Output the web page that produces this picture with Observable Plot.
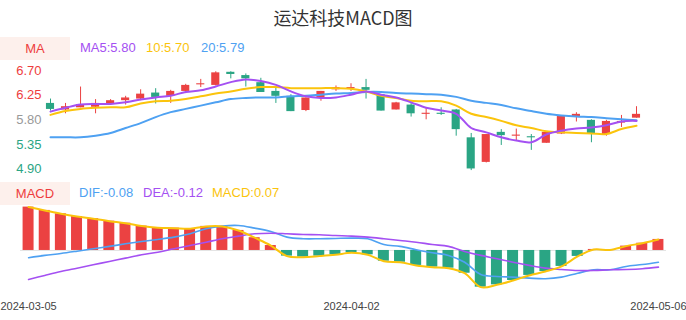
<!DOCTYPE html>
<html><head><meta charset="utf-8">
<script src="https://cdn.jsdelivr.net/npm/d3@7"></script>
<script src="https://cdn.jsdelivr.net/npm/@observablehq/plot@0.6"></script>
<style>
body{margin:0;background:#fff;}
#root{position:relative;width:686px;height:320px;font-family:"Liberation Sans",Arial,sans-serif;overflow:hidden;}
.abs{position:absolute;white-space:nowrap;}
.box{position:absolute;left:0;width:70px;height:23px;line-height:23px;background:#fdf0ec;color:#ee3d3d;font-size:13px;text-align:center;}
.leg{position:absolute;font-size:13px;line-height:16px;white-space:nowrap;}
svg{position:absolute;left:0;}
</style></head>
<body><div id="root">
<div class="abs" style="left:0;width:686px;top:4px;text-align:center;font-size:18px;color:#333;font-family:'Noto Sans CJK SC','Liberation Sans',sans-serif;">运达科技MACD图</div>
<div class="box" style="top:37px;">MA</div>
<div class="leg" style="left:80px;top:40px;color:#a450f2;">MA5:5.80</div>
<div class="leg" style="left:146px;top:40px;color:#fbc40c;">10:5.70</div>
<div class="leg" style="left:201px;top:40px;color:#4ea1f2;">20:5.79</div>
<div class="box" style="top:182px;">MACD</div>
<div class="leg" style="left:79px;top:185px;color:#4ea1f2;">DIF:-0.08</div>
<div class="leg" style="left:143px;top:185px;color:#a450f2;">DEA:-0.12</div>
<div class="leg" style="left:212px;top:185px;color:#fbc40c;">MACD:0.07</div>
</div>
<script>
const dates = ["2024-03-05","2024-03-06","2024-03-07","2024-03-08","2024-03-11","2024-03-12","2024-03-13","2024-03-14","2024-03-15","2024-03-18","2024-03-19","2024-03-20","2024-03-21","2024-03-22","2024-03-25","2024-03-26","2024-03-27","2024-03-28","2024-03-29","2024-04-01","2024-04-02","2024-04-03","2024-04-08","2024-04-09","2024-04-10","2024-04-11","2024-04-12","2024-04-15","2024-04-16","2024-04-17","2024-04-18","2024-04-19","2024-04-22","2024-04-23","2024-04-24","2024-04-25","2024-04-26","2024-04-29","2024-04-30","2024-05-06"];
const tickIndex = [0, 20, 39];
const open  = [6.10,5.98,6.02,6.03,6.08,6.15,6.18,6.29,6.23,6.32,6.44,6.43,6.67,6.61,6.48,6.32,6.23,5.97,6.20,6.35,6.37,6.39,6.26,5.98,6.07,5.90,5.92,5.98,5.47,5.02,5.57,5.50,5.49,5.37,5.54,5.86,5.79,5.53,5.74,5.83];
const close = [5.99,6.04,6.08,6.10,6.15,6.20,6.27,6.21,6.32,6.43,6.46,6.66,6.63,6.55,6.30,6.23,5.95,6.20,6.32,6.39,6.39,6.34,5.96,6.11,5.91,5.92,5.90,5.62,4.90,5.53,5.51,5.52,5.47,5.57,5.86,5.90,5.55,5.77,5.77,5.90];
const high  = [6.18,6.10,6.40,6.17,6.17,6.23,6.35,6.37,6.34,6.45,6.54,6.68,6.68,6.64,6.56,6.38,6.26,6.20,6.32,6.42,6.46,6.54,6.26,6.12,6.10,6.02,6.02,5.99,5.55,5.53,5.62,5.63,5.53,5.58,5.87,5.93,5.80,5.79,5.88,6.04];
const low   = [5.96,5.91,6.02,5.91,6.07,6.07,6.15,6.09,6.10,6.28,6.39,6.42,6.55,6.40,6.30,6.10,5.95,5.95,6.14,6.32,6.32,6.18,5.96,5.98,5.85,5.80,5.88,5.50,4.87,5.01,5.33,5.42,5.24,5.37,5.53,5.76,5.38,5.50,5.66,5.83];
const ma5  = [5.95,6.02,6.08,6.09,6.09,6.12,6.17,6.21,6.24,6.31,6.34,6.41,6.49,6.54,6.51,6.44,6.32,6.23,6.20,6.21,6.26,6.32,6.26,6.21,6.12,6.02,5.97,5.91,5.65,5.57,5.48,5.42,5.39,5.53,5.60,5.64,5.66,5.70,5.77,5.78];
const ma10 = [5.89,5.96,6.00,6.02,6.03,6.03,6.10,6.14,6.15,6.18,6.23,6.28,6.32,6.37,6.40,6.40,6.38,6.38,6.38,6.38,6.37,6.32,6.24,6.20,6.15,6.14,6.14,6.06,5.91,5.85,5.78,5.70,5.65,5.59,5.57,5.56,5.55,5.54,5.63,5.69];
const ma20 = [5.48,5.48,5.48,5.51,5.56,5.65,5.74,5.85,5.94,6.00,6.06,6.12,6.18,6.20,6.21,6.21,6.23,6.24,6.26,6.28,6.29,6.31,6.31,6.29,6.28,6.27,6.26,6.22,6.15,6.11,6.07,6.01,5.96,5.91,5.88,5.86,5.85,5.83,5.81,5.79];
const dif  = [-0.050,-0.034,-0.021,-0.005,0.012,0.028,0.046,0.062,0.076,0.092,0.115,0.150,0.168,0.172,0.154,0.131,0.092,0.081,0.081,0.083,0.085,0.081,0.041,0.028,0.005,-0.016,-0.034,-0.081,-0.166,-0.179,-0.184,-0.191,-0.195,-0.184,-0.157,-0.133,-0.133,-0.110,-0.097,-0.081];
const dea  = [-0.200,-0.172,-0.145,-0.122,-0.099,-0.076,-0.053,-0.030,-0.012,0.012,0.034,0.057,0.081,0.099,0.115,0.119,0.115,0.110,0.108,0.103,0.099,0.092,0.081,0.069,0.057,0.041,0.028,-0.007,-0.034,-0.057,-0.081,-0.103,-0.122,-0.131,-0.138,-0.138,-0.133,-0.131,-0.126,-0.115];
const macd = [0.299,0.276,0.253,0.234,0.219,0.202,0.188,0.168,0.157,0.154,0.150,0.166,0.166,0.138,0.088,0.034,-0.039,-0.046,-0.039,-0.030,-0.016,-0.030,-0.074,-0.081,-0.103,-0.115,-0.122,-0.157,-0.253,-0.237,-0.207,-0.172,-0.145,-0.110,-0.041,0.007,0.003,0.030,0.050,0.076];
const yTicksUp = [6.70, 6.25], yTicksMid = [5.80], yTicksDown = [5.35, 4.90];

const RED = "#eb4242", GREEN = "#2aa584", PURPLE = "#a450f2", YELLOW = "#fbc40c", BLUE = "#4ea1f2";
const rows = dates.map((d, i) => ({i, date: d, open: open[i], close: close[i], high: high[i], low: low[i],
  ma5: ma5[i], ma10: ma10[i], ma20: ma20[i], dif: dif[i], dea: dea[i], macd: macd[i]}));
const candleColor = d => d.close >= d.open ? RED : GREEN;
const fmt = d => d.toFixed(2);
const axisOpts = {tickSize: 0, tickPadding: 9, tickFormat: fmt, fontSize: 13, label: null};

const kChart = Plot.plot({
  width: 686, height: 120, marginLeft: 50, marginRight: 50, marginTop: 5, marginBottom: 5,
  style: {fontFamily: "'Liberation Sans', Arial, sans-serif", background: "transparent", overflow: "visible"},
  x: {domain: [0, 39], axis: null},
  y: {domain: [4.780, 6.7945], axis: null},
  marks: [
    Plot.axisY(yTicksUp, {...axisOpts, fill: "#ee3d3d"}),
    Plot.axisY(yTicksMid, {...axisOpts, fill: "#999"}),
    Plot.axisY(yTicksDown, {...axisOpts, fill: "#2aa584"}),
    Plot.ruleX(rows, {x: "i", y1: "low", y2: "high", stroke: candleColor, strokeWidth: 1}),
    Plot.rect(rows, {x1: d => d.i - 0.27, x2: d => d.i + 0.27, y1: "open", y2: "close", fill: candleColor}),
    Plot.line(rows, {x: "i", y: "ma20", stroke: BLUE, strokeWidth: 2, curve: "catmull-rom"}),
    Plot.line(rows, {x: "i", y: "ma10", stroke: YELLOW, strokeWidth: 2, curve: "catmull-rom"}),
    Plot.line(rows, {x: "i", y: "ma5", stroke: PURPLE, strokeWidth: 2, curve: "catmull-rom"})
  ]
});
kChart.style.top = "60px";

const macdChart = Plot.plot({
  width: 686, height: 125, marginLeft: 20, marginRight: 20, marginTop: 10, marginBottom: 30,
  style: {fontFamily: "'Liberation Sans', Arial, sans-serif", background: "transparent", overflow: "visible"},
  x: {domain: [-0.5, 39.5], axis: null},
  y: {domain: [-0.276, 0.31], axis: null},
  marks: [
    Plot.ruleY([0], {stroke: "#e3e3e3", strokeWidth: 1}),
    Plot.rectY(rows, {x1: d => d.i - 0.34, x2: d => d.i + 0.34, y1: 0, y2: "macd", fill: d => d.macd >= 0 ? RED : GREEN}),
    Plot.line(rows, {x: "i", y: "dif", stroke: BLUE, strokeWidth: 1.6, curve: "catmull-rom"}),
    Plot.line(rows, {x: "i", y: "dea", stroke: PURPLE, strokeWidth: 1.6, curve: "catmull-rom"}),
    Plot.line(rows, {x: "i", y: "macd", stroke: YELLOW, strokeWidth: 2, curve: "catmull-rom"}),
    Plot.axisX(tickIndex, {tickSize: 0, tickPadding: 12, tickFormat: i => dates[i], fontSize: 11, fill: "#444", label: null})
  ]
});
macdChart.style.top = "195px";

const root = document.getElementById("root");
root.appendChild(kChart);
root.appendChild(macdChart);
</script>
</body></html>
